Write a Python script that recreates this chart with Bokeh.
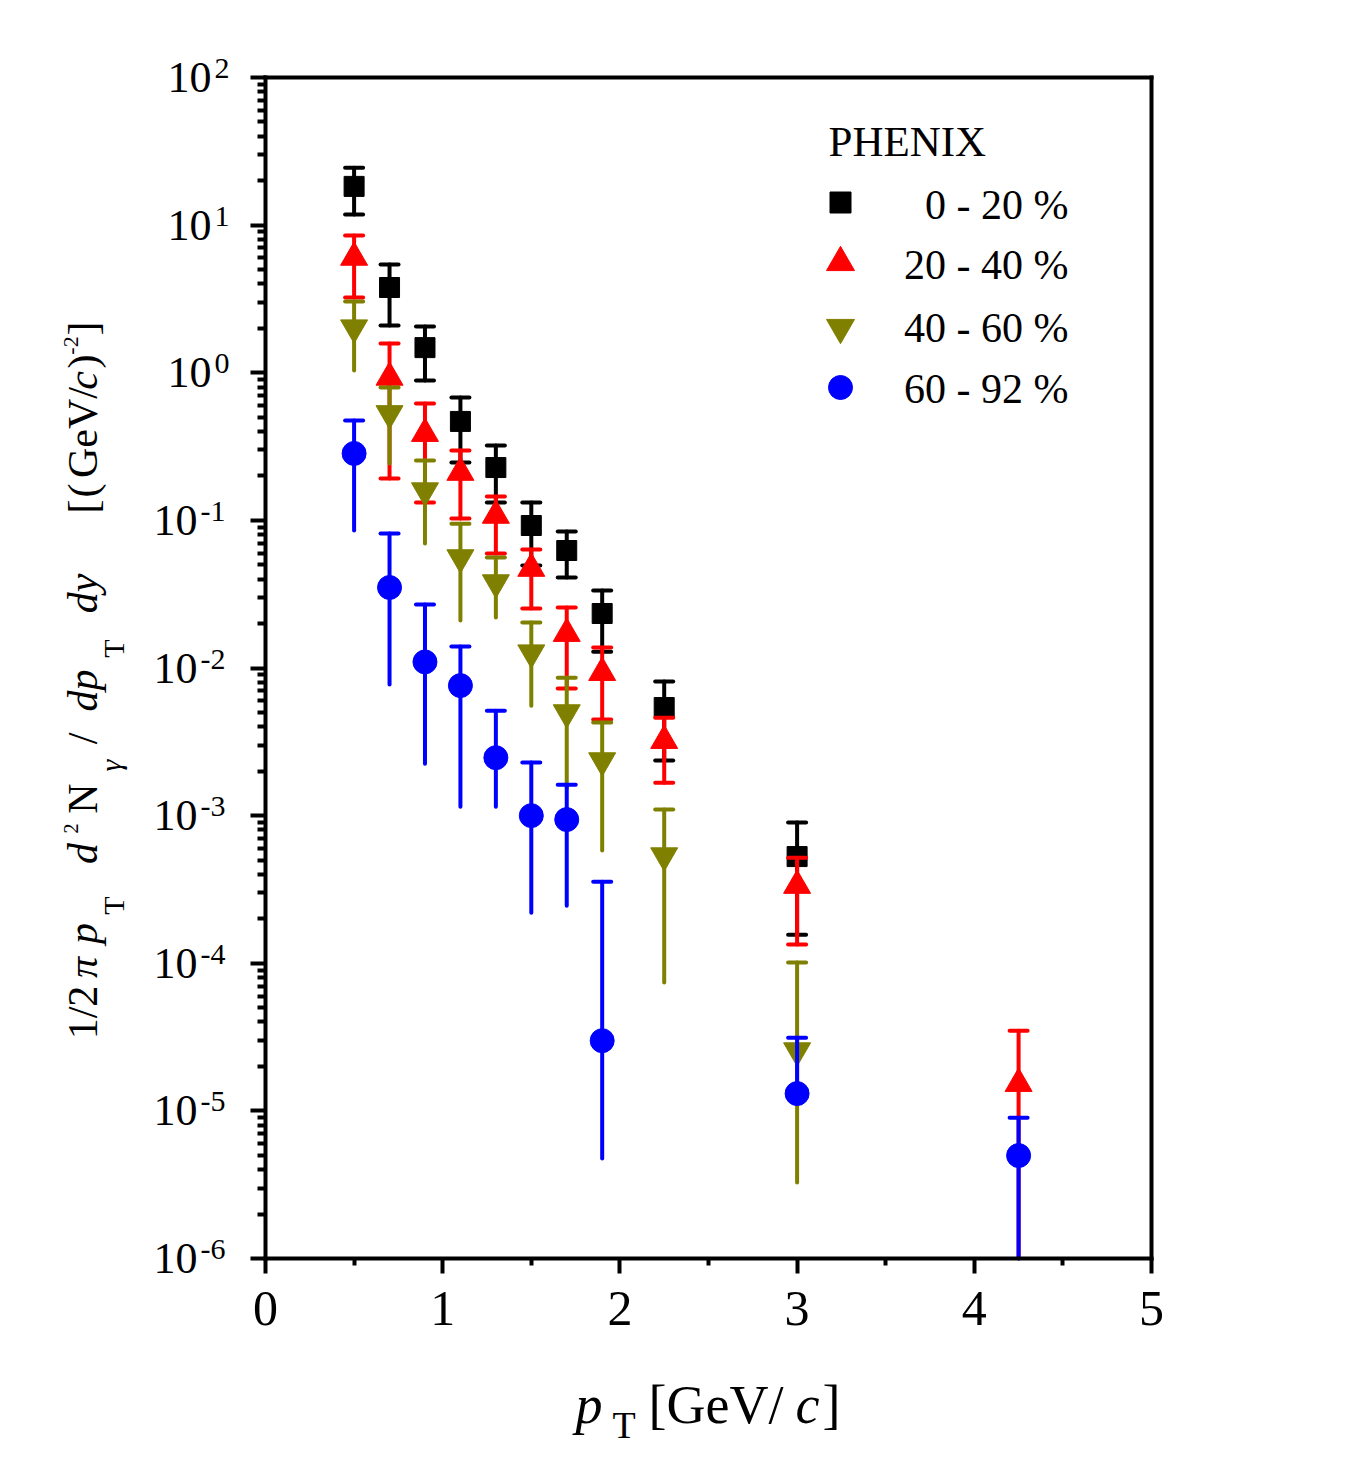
import numpy as np
from bokeh.plotting import figure
from bokeh.models import Range1d, FixedTicker, Label, LinearAxis, LogAxis
from bokeh.embed import file_html
from bokeh.resources import INLINE

# ---------------- data ----------------
pt_0 = [0.5, 0.7, 0.9, 1.1, 1.3, 1.5, 1.7, 1.9, 2.25, 3.0]
y_0 = [18.3, 3.78, 1.48, 0.468, 0.228, 0.0923, 0.0625, 0.0234, 0.0054, 5.28e-4]
hi_0 = [24.5, 5.41, 2.06, 0.68, 0.321, 0.132, 0.084, 0.0335, 0.0081, 8.97e-4]
lo_0 = [11.8, 2.09, 0.885, 0.247, 0.132, 0.0494, 0.041, 0.0129, 0.00236, 1.56e-4]

pt_1 = [0.5, 0.7, 0.9, 1.1, 1.3, 1.5, 1.7, 1.9, 2.25, 3.0, 4.25]
y_1 = [6.04, 0.93, 0.387, 0.211, 0.108, 0.0472, 0.0171, 0.0093, 0.00322, 3.36e-4, 1.53e-5]
hi_1 = [8.5, 1.58, 0.618, 0.297, 0.145, 0.0634, 0.0257, 0.01375, 0.00461, 5.19e-4, 3.49e-5]
lo_1 = [3.23, 0.192, 0.132, 0.103, 0.0596, 0.0253, 0.00726, 0.00447, 0.00167, 1.34e-4, 0.0]

pt_2 = [0.5, 0.7, 0.9, 1.1, 1.3, 1.5, 1.7, 1.9, 2.25, 3.0]
y_2 = [2.02, 0.53, 0.159, 0.056, 0.0379, 0.0127, 0.00499, 0.00236, 5.36e-4, 2.56e-5]
hi_2 = [3.04, 0.794, 0.254, 0.095, 0.056, 0.0203, 0.0086, 0.00427, 1.1e-3, 1.01e-4]
lo_2 = [1.035, 0.243, 0.0697, 0.021, 0.022, 0.00556, 0.00155, 5.8e-4, 7.4e-5, 3.27e-6]

pt_3 = [0.5, 0.7, 0.9, 1.1, 1.3, 1.5, 1.7, 1.9, 3.0, 4.25]
y_3 = [0.284, 0.0351, 0.011, 0.0076, 0.00247, 1.0e-3, 9.4e-4, 2.99e-5, 1.31e-5, 4.98e-6]
hi_3 = [0.474, 0.0815, 0.0269, 0.01396, 0.00514, 0.00229, 1.62e-3, 3.57e-4, 3.13e-5, 9.0e-6]
lo_3 = [0.0853, 0.00773, 0.00225, 0.00115, 0.00115, 2.2e-4, 2.45e-4, 4.75e-6, 1.31e-5, 0.0]

series_labels = ["0 - 20 %", "20 - 40 %", "40 - 60 %", "60 - 92 %"]
series_colors = ["#000000", "#ff0000", "#808000", "#0000ff"]
series_markers = ["square", "triangle", "inverted_triangle", "circle"]
series_sizes = [21, 28, 28, 24]
x_ticks = [0, 1, 2, 3, 4, 5]
y_exponents = [2, 1, 0, -1, -2, -3, -4, -5, -6]

X0, X1 = 0.0, 5.0
Y0, Y1 = 1e-6, 1e2

# ---------------- layout: frame spans the whole canvas ----------------
W, H = 1361, 1478
L, T, R, B = 265, 77, 210, 220          # where the axis box sits on the canvas
FONT = "Liberation Serif"
MID = 0.34                              # em-middle above the baseline
px_per_x = (W - L - R) / (X1 - X0)
px_per_dec = (H - T - B) / (np.log10(Y1) - np.log10(Y0))
x_lo = X0 - L / px_per_x
x_hi = X1 + R / px_per_x
y_lo = 10 ** (np.log10(Y0) - B / px_per_dec)
y_hi = 10 ** (np.log10(Y1) + T / px_per_dec)

p = figure(width=W, height=H, min_border=0,
           x_range=Range1d(x_lo, x_hi), y_range=Range1d(y_lo, y_hi), y_axis_type="log",
           output_backend="svg", toolbar_location=None, title=None)
p.background_fill_color = "white"
p.border_fill_color = "white"
p.outline_line_color = None
p.xgrid.visible = False
p.ygrid.visible = False


def style_axis(a):
    a.axis_line_width = 4
    a.axis_line_cap = "square"
    a.major_tick_line_width = 4
    a.minor_tick_line_width = 4
    a.major_tick_in = 0
    a.minor_tick_in = 0


ax = p.xaxis[0]
ax.fixed_location = Y0
ax.bounds = (X0, X1)
ax.ticker = FixedTicker(ticks=x_ticks, minor_ticks=[t + 0.5 for t in x_ticks[:-1]])
style_axis(ax)
ax.major_tick_out = 15
ax.minor_tick_out = 7
ax.major_label_text_font = FONT
ax.major_label_text_font_size = "50px"
ax.major_label_text_color = "black"
ax.major_label_standoff = 18

ay = p.yaxis[0]
ay.fixed_location = X0
ay.bounds = (Y0, Y1)
majors = [10.0 ** e for e in y_exponents]
minors = [k * 10.0 ** e for e in y_exponents[1:] for k in range(2, 10)]
ay.ticker = FixedTicker(ticks=majors, minor_ticks=minors)
style_axis(ay)
ay.major_tick_out = 15
ay.minor_tick_out = 8
ay.major_label_text_font_size = "10px"
ay.major_label_text_alpha = 0       # drawn below as "10" + superscript

top = LinearAxis(fixed_location=Y1, bounds=(X0, X1), ticker=FixedTicker(ticks=[], minor_ticks=[]))
style_axis(top)
p.add_layout(top, "above")
right = LogAxis(fixed_location=X1, bounds=(Y0, Y1), ticker=FixedTicker(ticks=[], minor_ticks=[]))
style_axis(right)
p.add_layout(right, "right")


def lab(text, cx, cy, size, style="normal", align="left", angle=0.0, y_data=None):
    """cx, cy: canvas px of the anchor; text is vertically centred on it."""
    kw = dict(text=text, x=cx, x_units="screen", text_font=FONT,
              text_font_size=f"{size}px", text_font_style=style, text_color="black",
              text_align=align, text_baseline="middle", angle=angle)
    if y_data is None:
        kw.update(y=H - cy, y_units="screen")
    else:
        kw.update(y=y_data, y_units="data")
    p.add_layout(Label(**kw))


def hlab(text, left, base, size, style="normal", align="left"):
    """horizontal text given by its baseline."""
    lab(text, left, base - MID * size, size, style=style, align=align)


# y tick labels: "10" + raised exponent
EXP_RAISE = 9
for e in y_exponents:
    v = 10.0 ** e
    lab("10", 211 if e >= 0 else 197, None, 44, align="right", y_data=v)
    lab(str(e), 214 if e >= 0 else 200, None, 30, align="left",
        y_data=10 ** (e + EXP_RAISE / px_per_dec))

# x axis title
hlab("p", 575, 1423, 54, style="italic")
hlab("T", 612, 1437, 38)
hlab("[GeV/", 648, 1423, 54)
hlab("c", 795, 1423, 54, style="italic")
hlab("]", 822, 1423, 54)

# y axis title (rotated pieces: text, style, centre y, baseline x, size)
ROT = float(np.pi / 2)
ytitle = [
    ("1/2", "normal", 1012, 97, 42),
    ("\u03c0", "italic", 967, 97, 42),
    ("p", "italic", 933, 97, 42),
    ("T", "normal", 905, 123, 30),
    ("d", "italic", 853, 97, 42),
    ("2", "normal", 828, 77, 20),
    ("N", "normal", 798, 97, 42),
    ("\u03b3", "italic", 765, 120, 30),
    ("/", "normal", 738, 97, 42),
    ("dp", "italic", 690, 97, 42),
    ("T", "normal", 648, 123, 30),
    ("dy", "italic", 593, 97, 42),
    ("[", "normal", 506, 97, 42),
    ("(", "normal", 490, 97, 42),
    ("GeV/", "normal", 432, 97, 42),
    ("c", "italic", 380, 97, 42),
    (")", "normal", 361, 97, 42),
    ("-2", "normal", 345, 78, 22),
    ("]", "normal", 328, 97, 42),
]
for text, style, cy, bx, size in ytitle:
    lab(text, bx - MID * size, cy, size, style=style, align="center", angle=ROT)

# ---------------- data series ----------------


def draw_series(xs, ys, hi, lo, color, marker, size, lower_caps):
    xs = np.asarray(xs, float)
    ys = np.asarray(ys, float)
    hi = np.asarray(hi, float)
    lo = np.asarray(lo, float)
    lo_plot = np.where(lo > Y0, lo, Y0)       # bars running off the axis stop at it
    p.segment(x0=xs, y0=lo_plot, x1=xs, y1=hi, line_color=color, line_width=4,
              line_cap="round")
    p.scatter(x=xs, y=hi, marker="dash", size=18, line_color=color, line_width=4,
              line_cap="round")
    if lower_caps:
        m = (lo > Y0) & (lo < ys)
        p.scatter(x=xs[m], y=lo[m], marker="dash", size=18, line_color=color,
                  line_width=4, line_cap="round")
    p.scatter(x=xs, y=ys, marker=marker, size=size, fill_color=color,
              line_color=color, line_width=1, line_join="round")


draw_series(pt_0, y_0, hi_0, lo_0, series_colors[0], series_markers[0], 20, True)
draw_series(pt_1, y_1, hi_1, lo_1, series_colors[1], series_markers[1], 27, True)
draw_series(pt_2, y_2, hi_2, lo_2, series_colors[2], series_markers[2], 27, False)
draw_series(pt_3, y_3, hi_3, lo_3, series_colors[3], series_markers[3], 24, False)

# ---------------- legend (key symbols + texts at canvas positions) ----------------
lab("PHENIX", 828, 141, 43)
key_x_px = 840
key_rows_px = [202, 262, 327, 387]
label_mid_px = [204, 264, 327, 388]


def to_x(px):
    return x_lo + px / px_per_x


def to_y(py):
    return 10 ** (np.log10(y_hi) - py / px_per_dec)


for i in range(4):
    p.scatter(x=[to_x(key_x_px)], y=[to_y(key_rows_px[i])], marker=series_markers[i],
              size=series_sizes[i], fill_color=series_colors[i],
              line_color=series_colors[i], line_width=1, line_join="round")
    lab(series_labels[i], 1068, label_mid_px[i], 42, align="right")

open("out.html", "w").write(file_html(p, INLINE))
